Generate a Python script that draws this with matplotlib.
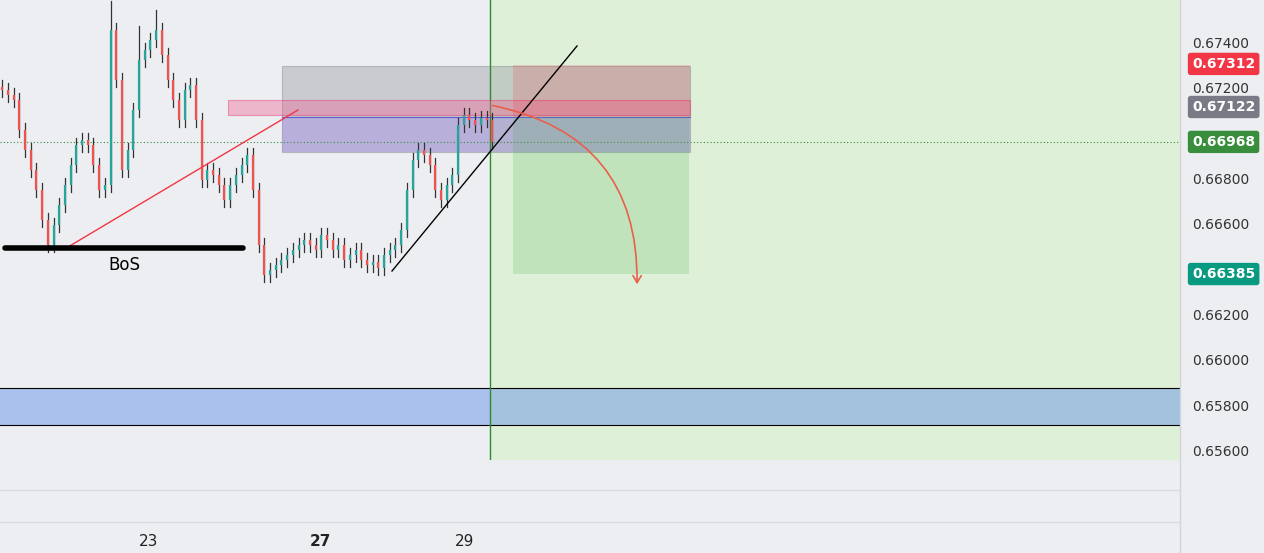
import matplotlib
matplotlib.use("Agg")
import matplotlib.pyplot as plt
import matplotlib.patches as mp
from matplotlib.patches import FancyArrowPatch

closes = [.67197,.67175,.67153,.67021,.66932,.66844,.66756,.66624,.66513,.66601,.66690,.66778,.66866,.66954,.66976,.66954,.66866,.66756,.66778,.67462,.67241,.66844,.66932,.67109,.67329,.67373,.67418,.67462,.67351,.67241,.67153,.67065,.67197,.67219,.67065,.66800,.66844,.66822,.66778,.66712,.66778,.66822,.66866,.66910,.66756,.66513,.66381,.66403,.66425,.66447,.66469,.66491,.66513,.66535,.66513,.66491,.66557,.66535,.66491,.66513,.66447,.66469,.66491,.66447,.66425,.66438,.66412,.66469,.66491,.66513,.66579,.66756,.66888,.66932,.66910,.66866,.66756,.66712,.66778,.66822,.67043,.67087,.67065,.67043,.67073,.67065,.66968]
opens = [.67210] + closes[:-1]
wick = 0.00030
spike_highs = {19: .67590, 27: .67550, 24: .67480}
date_labels = ["23", "27", "29"]
date_pos = [25.6, 55.9, 81.2]
price_ticks = [0.656, 0.658, 0.660, 0.662, 0.664, 0.666, 0.668, 0.670, 0.672, 0.674]
tag_prices = [0.67312, 0.67122, 0.66968, 0.66385]
tag_colors = ["#f23645", "#787b86", "#388e3c", "#089981"]

PX = 490 / 86.0  # px per candle
def X(px): return px / PX - 0.4
def Y(py): return 0.67594 - py / 22667.0

fig = plt.figure(figsize=(12.64, 5.53), dpi=100)
fig.patch.set_facecolor("#eceef1")
ax = fig.add_axes([0, 1 - 460/553, 1180/1264, 460/553])
ax.set_facecolor("#eceef1")
ax.set_xlim(X(0), X(1180))
ax.set_ylim(Y(460), Y(0))
for s in ax.spines.values(): s.set_visible(False)
ax.set_xticks([]); ax.set_yticks([])

ax.add_patch(mp.Rectangle((X(490), Y(460)), X(1180)-X(490), Y(0)-Y(460), color="#dff0d8", zorder=0))
ax.add_patch(mp.Rectangle((X(0), Y(425)), X(1180)-X(0), Y(388)-Y(425), color="#4a7fe8", alpha=0.4, zorder=1, lw=0))
for yy in (388, 425):
    ax.plot([X(0), X(1180)], [Y(yy)]*2, color="black", lw=0.8, zorder=2)
ax.axvline(X(490), color="#2e8b2e", lw=1, zorder=3)
ax.axhline(0.66968, color="#388e3c", lw=0.8, ls=(0, (1, 2)), zorder=3)

ax.add_patch(mp.Rectangle((X(282), Y(152)), X(690)-X(282), Y(66)-Y(152), fc="#9598a1", alpha=0.4, ec="#787b86", lw=0.8, zorder=2))
ax.add_patch(mp.Rectangle((X(282), Y(152)), X(690)-X(282), Y(117)-Y(152), fc="#9c7cf0", alpha=0.35, lw=0, zorder=2))
ax.plot([X(282), X(690)], [Y(117)]*2, color="#5b5bd0", lw=0.8, zorder=3)
ax.add_patch(mp.Rectangle((X(228), Y(115)), X(690)-X(228), Y(100)-Y(115), fc="#f06292", alpha=0.4, ec="#e91e63", lw=0.8, zorder=3))
ax.add_patch(mp.Rectangle((X(513), Y(117)), X(690)-X(513), Y(65)-Y(117), fc="#f23645", alpha=0.2, lw=0, zorder=3))
ax.add_patch(mp.Rectangle((X(513), Y(274)), X(689)-X(513), Y(117)-Y(274), fc="#4caf50", alpha=0.2, lw=0, zorder=3))

for i, (o, c) in enumerate(zip(opens, closes)):
    hi = spike_highs.get(i, max(o, c) + wick)
    lo = min(o, c) - wick
    col = "#26a69a" if c >= o else "#ef5350"
    ax.plot([i, i], [lo, hi], color="#333", lw=0.9, zorder=4)
    ax.plot([i, i], [min(o, c), max(o, c)], color=col, lw=1.6, zorder=4, solid_capstyle="butt")

ax.plot([X(68), X(298)], [Y(247), Y(110)], color="#f23645", lw=1, zorder=5)
ax.plot([X(5), X(243)], [Y(248)]*2, color="black", lw=4, solid_capstyle="round", zorder=5)
ax.text(X(124), Y(265), "BoS", fontsize=12, ha="center", va="center", zorder=5)
ax.plot([X(392), X(577)], [Y(271), Y(46)], color="black", lw=1, zorder=5)
arr = FancyArrowPatch((X(490), Y(105)), (X(637), Y(287)), connectionstyle="arc3,rad=-0.42",
                      arrowstyle="->,head_length=5,head_width=3", color="#e8604c", lw=1.2, zorder=6)
ax.add_patch(arr)

fig.add_artist(plt.Line2D([1180/1264]*2, [0, 1], color="#d1d4dc", lw=1))
for yy in (490, 522):
    fig.add_artist(plt.Line2D([0, 1180/1264], [1-yy/553]*2, color="#d9dce2", lw=1))
def fy(p): return 1 - ((0.67594 - p) * 22667.0) / 553
for p in price_ticks:
    if min(abs(p - t) for t in tag_prices) < 0.0004: continue
    fig.text(1192/1264, fy(p), f"{p:.5f}", fontsize=10, color="#333", va="center")
for p, c in zip(tag_prices, tag_colors):
    fig.text(1192/1264, fy(p), f"{p:.5f}", fontsize=10, color="white", weight="bold", va="center",
             bbox=dict(boxstyle="round,pad=0.3,rounding_size=0.2", fc=c, ec="none"))
for lab, x in zip(date_labels, date_pos):
    px = (x + 0.4) * PX
    fig.text(px/1264, 1-541/553, lab, fontsize=11, color="#222", ha="center", va="center",
             weight="bold" if lab == "27" else "normal")
fig.savefig("out.png", dpi=100, facecolor=fig.get_facecolor())
